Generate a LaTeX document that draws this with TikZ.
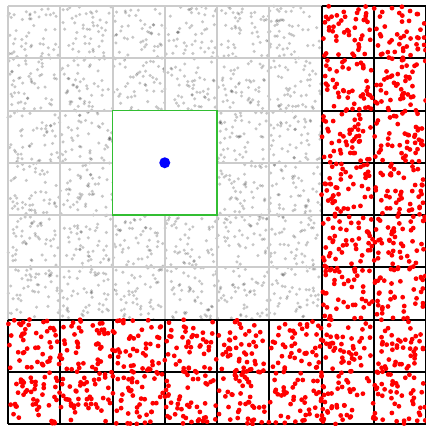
\documentclass[tikz,border=0pt]{standalone}
\definecolor{gridgray}{RGB}{204,204,204}
\definecolor{boxgreen}{RGB}{50,190,50}
\tikzset{
  graypt/.style={fill=black,opacity=0.22},
  redpt/.style={fill=red},
  thingrid/.style={draw=gridgray,line width=2pt},
  thickgrid/.style={draw=black,line width=2pt},
  greenbox/.style={draw=boxgreen,line width=1.6pt,fill=white},
  centerdot/.style={circle,fill=blue,inner sep=0pt,minimum size=11pt}
}
\begin{document}
\begin{tikzpicture}[x=1pt,y=-1pt]
\useasboundingbox (0,0) rectangle (426,426);
\fill[white] (0,0) rectangle (426,426);
\pgfmathsetseed{7}
\def\s{52.25}
% gray points
\foreach \i in {0,...,5}{
  \foreach \j in {0,...,5}{
    \foreach \k in {1,...,50}{
      \pgfmathsetmacro\px{8+\s*\i+rnd*\s}
      \pgfmathsetmacro\py{6+\s*\j+rnd*\s}
      \fill[graypt] (\px,\py) circle[radius=1.7];
    }
  }
}
% gray grid
\foreach \i in {0,...,6}{
  \pgfmathsetmacro\gx{8+\s*\i}
  \draw[thingrid] (\gx,6) -- (\gx,319.5);
  \pgfmathsetmacro\gy{6+\s*\i}
  \draw[thingrid] (8,\gy) -- (321.5,\gy);
}
% green box and blue center
\draw[greenbox] (112.5,110.5) rectangle (217,215);
\node[centerdot] (c) at (164.75,162.75) {};
% black grid
\foreach \i in {0,...,8}{
  \pgfmathsetmacro\gx{8+\s*\i}
  \draw[thickgrid] (\gx,319.5) -- (\gx,424);
  \pgfmathsetmacro\gy{6+\s*\i}
  \draw[thickgrid] (321.5,\gy) -- (426,\gy);
}
\foreach \i in {6,7,8}{
  \pgfmathsetmacro\gx{8+\s*\i}
  \draw[thickgrid] (\gx,6) -- (\gx,424);
  \pgfmathsetmacro\gy{6+\s*\i}
  \draw[thickgrid] (8,\gy) -- (426,\gy);
}
% red points
\foreach \i in {0,...,7}{
  \foreach \j in {0,...,7}{
    \pgfmathtruncatemacro\inred{(\i>5)||(\j>5)}
    \ifnum\inred=1
    \foreach \k in {1,...,45}{
      \pgfmathsetmacro\px{8+\s*\i+rnd*\s}
      \pgfmathsetmacro\py{6+\s*\j+rnd*\s}
      \fill[redpt] (\px,\py) circle[radius=2.4];
    }
    \fi
  }
}
\end{tikzpicture}
\end{document}
